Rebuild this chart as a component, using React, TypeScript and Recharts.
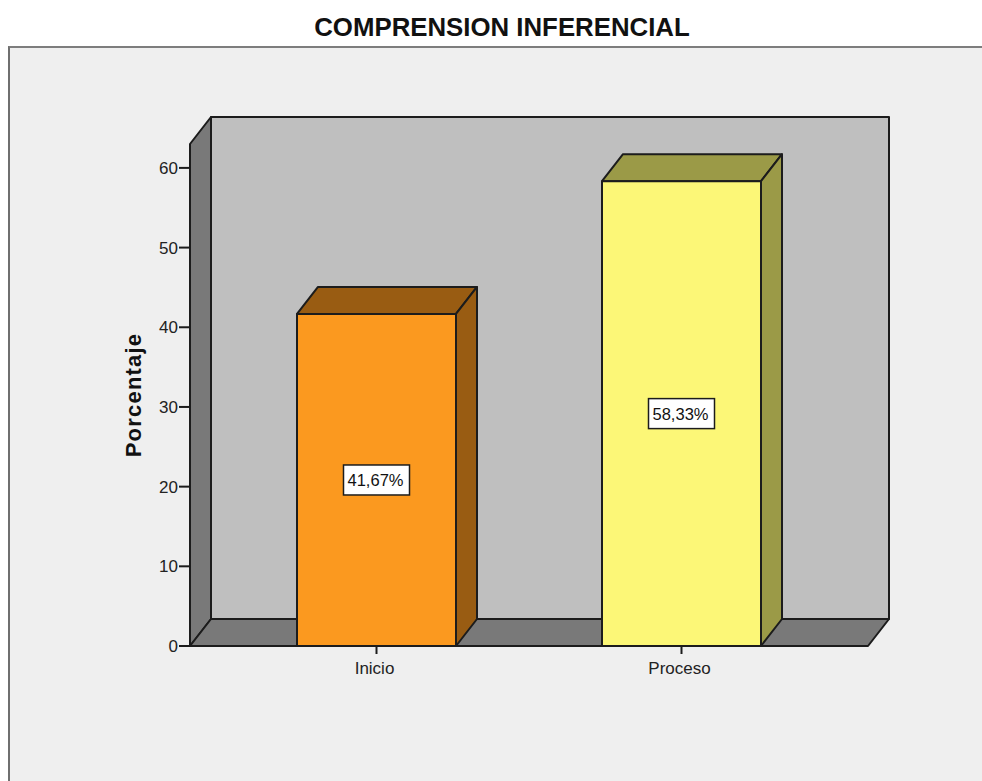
import React from 'react';
import { BarChart, Bar, XAxis, YAxis, ReferenceArea, LabelList, Label } from 'recharts';

const categories = ['Inicio', 'Proceso'];
const porcentajes = [41.67, 58.33];
const yTicks = [0, 10, 20, 30, 40, 50, 60];

const data = categories.map((name, i) => ({ name, value: porcentajes[i] }));

const FONT = '"Liberation Sans", Arial, sans-serif';
const INK = '#1c1c1c';
const DX = 21;
const DY = 27;
const PAD = 34;

const faceColors = ['#fb991f', '#fcf777'];
const shadeColors = ['#995c12', '#9b9a47'];

// back wall, left wall and floor of the fake 3D box
// the reference area only spans the padded x range, so widen it by PAD each side
function Walls(props: any) {
  const { x: innerX, y, width: innerWidth, height } = props;
  const x = innerX - PAD;
  const width = innerWidth + PAD * 2;
  const b = y + height;
  const line = { stroke: INK, strokeWidth: 2, strokeLinejoin: 'round' as const };
  return (
    <g>
      <rect x={x + DX} y={y - DY} width={width} height={height} fill="#bfbfbf" {...line} />
      <path d={`M${x},${y} L${x + DX},${y - DY} L${x + DX},${b - DY} L${x},${b} Z`} fill="#797979" {...line} />
      <path d={`M${x},${b} L${x + DX},${b - DY} L${x + width + DX},${b - DY} L${x + width},${b} Z`} fill="#797979" {...line} />
    </g>
  );
}

function Box(props: any) {
  const { x, y, width, height, index } = props;
  const line = { stroke: INK, strokeWidth: 2, strokeLinejoin: 'round' as const };
  const r = x + width;
  const b = y + height;
  return (
    <g>
      <path d={`M${x},${y} L${x + DX},${y - DY} L${r + DX},${y - DY} L${r},${y} Z`} fill={shadeColors[index]} {...line} />
      <path d={`M${r},${y} L${r + DX},${y - DY} L${r + DX},${b - DY} L${r},${b} Z`} fill={shadeColors[index]} {...line} />
      <rect x={x} y={y} width={width} height={height} fill={faceColors[index]} {...line} />
    </g>
  );
}

function ValueBox(props: any) {
  const { x, y, width, height, value } = props;
  const cx = x + width / 2;
  const cy = y + height / 2;
  return (
    <g>
      <rect x={cx - 33} y={cy - 15} width={66} height={30} fill="#ffffff" stroke={INK} strokeWidth={1.5} />
      <text x={cx - 1} y={cy + 6} textAnchor="middle" fontFamily={FONT} fontSize={16.5} fill="#111">
        {value.toFixed(2).replace('.', ',')}%
      </text>
    </g>
  );
}

export default function App() {
  return (
    <div style={{ position: 'absolute', left: 0, top: 0, width: 982, height: 781, overflow: 'hidden', background: '#fff' }}>
      <div
        style={{
          position: 'absolute', left: 8, top: 46, width: 974, height: 735, boxSizing: 'border-box',
          background: '#efefef', borderLeft: '2px solid #6f6f6f', borderTop: '2px solid #7d7d7d',
        }}
      />
      <div
        style={{
          position: 'absolute', left: 0, top: 12, width: 1004, textAlign: 'center',
          fontFamily: FONT, fontWeight: 700, fontSize: 25.8, lineHeight: '30px', color: '#111',
        }}
      >
        COMPRENSION INFERENCIAL
      </div>
      <div style={{ position: 'absolute', left: 0, top: 0 }}>
        <BarChart
          width={982}
          height={781}
          data={data}
          barSize={159}
          margin={{ top: 144, right: 114, bottom: 0, left: 0 }}
        >
          <XAxis
            dataKey="name"
            padding={{ left: PAD, right: PAD }}
            tickSize={8}
            tickMargin={8}
            height={135}
            tick={{ fontFamily: FONT, fontSize: 17, fill: '#222', dx: -2 }}
            axisLine={{ stroke: INK, strokeWidth: 2 }}
            tickLine={{ stroke: INK, strokeWidth: 2 }}
          />
          <YAxis
            width={190}
            domain={[0, 63]}
            ticks={yTicks}
            interval={0}
            tickSize={11}
            tickMargin={1}
            tick={{ fontFamily: FONT, fontSize: 17, fill: '#222' }}
            axisLine={{ stroke: INK, strokeWidth: 2 }}
            tickLine={{ stroke: INK, strokeWidth: 2 }}
          >
            <Label
              value="Porcentaje"
              position="center"
              angle={-90}
              dx={38}
              style={{ fontFamily: FONT, fontWeight: 700, fontSize: 22, letterSpacing: 1.2, fill: '#111' }}
            />
          </YAxis>
          <ReferenceArea y1={0} y2={63} ifOverflow="visible" shape={Walls} />
          <Bar dataKey="value" shape={Box} isAnimationActive={false}>
            <LabelList dataKey="value" content={ValueBox} />
          </Bar>
        </BarChart>
      </div>
    </div>
  );
}
